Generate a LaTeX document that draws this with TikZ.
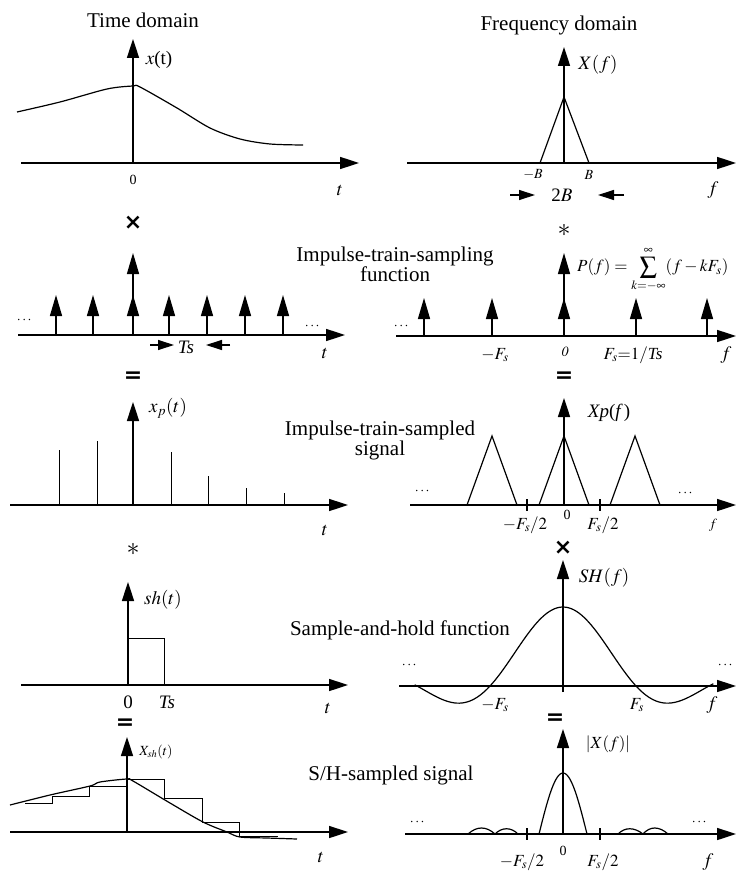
\documentclass[tikz,border=0pt]{standalone}
\usepackage{amsmath}
\usepackage{mathptmx}
\usepackage{fontspec}
\setmainfont{Liberation Serif}
\newfontfamily\opfont{DejaVu Sans}
\usetikzlibrary{arrows.meta}

\begin{document}
\begin{tikzpicture}[x=1pt,y=-1pt,
    axisline/.style={line width=1.6pt,-{Triangle[length=19pt,width=12pt]}},
    imp/.style={line width=1.4pt,-{Triangle[length=21pt,width=12pt]}},
    span/.style={line width=1.2pt,-{Triangle[length=16pt,width=10pt]}},
    curve/.style={line width=1.2pt},
    stem/.style={line width=0.9pt},
    title/.style={font=\fontsize{21}{19}\selectfont,align=center},
    lbl/.style={font=\fontsize{19}{21}\selectfont,inner sep=0pt},
    fslbl/.style={font=\fontsize{17}{19}\selectfont,inner sep=0pt},
    small/.style={font=\fontsize{14}{16}\selectfont,inner sep=0pt},
    op/.style={font=\fontsize{22}{22}\selectfont\opfont\bfseries,inner sep=0pt}]
    \useasboundingbox (0,0) rectangle (736,874);

    \node[title] (ttl-time) at (143,20) {Time domain};
    \node[title] (ttl-freq) at (559,25) {Frequency domain};
    \node[title] (ttl-train) at (395,264) {Impulse-train-sampling\\function};
    \node[title,font=\fontsize{21}{20}\selectfont] (ttl-sampled) at (380,440) {Impulse-train-sampled\\signal};
    \node[title] (ttl-hold) at (400,630) {Sample-and-hold function};
    \node[title] (ttl-sh) at (391,775) {S/H-sampled signal};

    % x(t)
    \draw[axisline] (21,163) -- (359,163);
    \draw[axisline] (133,163) -- (133,39);
    \draw[curve] plot[smooth,tension=0.5] coordinates {(17,112) (60,102) (107,89) (133,86) (140,87) (177,108) (210,128) (240,139) (270,144) (303,145)};
    \node[lbl] (lbl-xt) at (159,60) {$x$(t)};
    \node[small] (lbl-x0) at (133,180) {0};
    \node[lbl] (lbl-xt-t) at (340,190) {$t$};
    \node[op] (op-times1) at (133,223) {×};

    % X(f)
    \draw[axisline] (407,163) -- (736,163);
    \draw[axisline] (564,163) -- (564,47);
    \draw[curve] (540,163) -- (564,97) -- (589,163);
    \node[lbl] (lbl-Xf) at (598,65) {$X(f)$};
    \node[small] (lbl-mB) at (533,175) {$-B$};
    \node[small] (lbl-B) at (589,175) {$B$};
    \node[lbl] (lbl-Xf-f) at (713,190) {$f$};
    \node[lbl] (lbl-2B) at (562,195) {2$B$};
    \draw[span] (510,195) -- (535,195);
    \draw[span] (624,195) -- (598,195);
    \node[font=\fontsize{26}{26}\selectfont,inner sep=0pt] (op-conv1) at (564,230) {$\ast$};

    % p(t)
    \draw[axisline] (18,335) -- (345,335);
    \foreach \xi in {56,93,133,169,207,245,283}
        \draw[imp] (\xi,335) -- (\xi,295);
    \draw[imp] (133,335) -- (133,253);
    \node[small] (dots-p1) at (25,320) {$\cdots$};
    \node[small] (dots-p2) at (313,326) {$\cdots$};
    \draw[span] (150,345) -- (174,345);
    \draw[span] (230,345) -- (206,345);
    \node[lbl] (lbl-Ts1) at (186,347) {\textit{Ts}};
    \node[lbl] (lbl-p-t) at (325,353) {$t$};
    \node[op] (op-eq1) at (133,377) {=};

    % P(f)
    \draw[axisline] (396,336) -- (736,336);
    \foreach \xi in {424,492,564,636,707}
        \draw[imp] (\xi,336) -- (\xi,298);
    \draw[imp] (564,336) -- (564,253);
    \node[fslbl,anchor=base west] (lbl-Pf) at (577,272) {$\displaystyle P(f)=\sum_{k=-\infty}^{\infty}(f-kF_s)$};
    \node[small] (dots-P1) at (402,326) {$\cdots$};
    \node[fslbl] (lbl-mFs1) at (495,355) {$-F_s$};
    \node[small] (lbl-P0) at (565,352) {$\mathit{0}$};
    \node[fslbl] (lbl-Fs1) at (633,355) {$F_s{=}1/$\textit{Ts}};
    \node[lbl] (lbl-P-f) at (726,355) {$f$};
    \node[op] (op-eq2) at (564,377) {=};

    % x_p(t)
    \draw[axisline] (10,505) -- (348,505);
    \draw[axisline] (133,505) -- (133,402);
    \foreach \xi/\yi in {59/450,97/441,171/452,208/476,246/488,284/493}
        \draw[stem] (\xi,505) -- (\xi,\yi);
    \node[lbl] (lbl-xpt) at (168,408) {$x_p(t)$};
    \node[lbl] (lbl-xp-t) at (325,530) {$t$};
    \node[font=\fontsize{26}{26}\selectfont,inner sep=0pt] (op-conv2) at (133,549) {$\ast$};

    % X_p(f)
    \draw[axisline] (410,505) -- (736,505);
    \draw[axisline] (564,505) -- (564,398);
    \foreach \xc in {492,564,635}
        \draw[curve] (\xc-25,505) -- (\xc,436) -- (\xc+25,505);
    \draw[line width=1.2pt] (527,499) -- (527,511);
    \draw[line width=1.2pt] (600,499) -- (600,511);
    \node[lbl] (lbl-Xpf) at (609,413) {\textit{Xp}(\textit{f\,})};
    \node[small] (dots-Xp1) at (423,491) {$\cdots$};
    \node[small] (dots-Xp2) at (686,493) {$\cdots$};
    \node[fslbl] (lbl-mFs2) at (525,525) {$-F_s/2$};
    \node[small] (lbl-Xp0) at (567,515) {0};
    \node[fslbl] (lbl-Fs2) at (603,525) {$F_s/2$};
    \node[small] (lbl-Xp-f) at (713,525) {$f$};
    \node[op] (op-times2) at (563,548) {×};

    % sh(t)
    \draw[axisline] (21,685) -- (348,685);
    \draw[axisline] (128,685) -- (128,582);
    \draw[stem] (128,638) -- (164,638) -- (164,685);
    \node[lbl] (lbl-sht) at (163,600) {$sh(t)$};
    \node[lbl] (lbl-sh0) at (128,702) {0};
    \node[lbl] (lbl-Ts2) at (167,702) {\textit{Ts}};
    \node[lbl] (lbl-sh-t) at (328,708) {$t$};
    \node[op] (op-eq3) at (125,724) {=};

    % SH(f)
    \draw[axisline] (399,686) -- (736,686);
    \draw[axisline] (563,692) -- (563,560);
    \draw[curve] plot[domain=-148.3:150.3,samples=121] ({563+\x},{686-79*sin(\x/73*180)/(\x/73*3.14159)});
    \node[lbl] (lbl-SHf) at (604,578) {$SH(f)$};
    \node[small] (dots-SH1) at (410,665) {$\cdots$};
    \node[small] (dots-SH2) at (726,665) {$\cdots$};
    \node[fslbl] (lbl-mFs3) at (495,705) {$-F_s$};
    \node[fslbl] (lbl-Fs3) at (637,705) {$F_s$};
    \node[lbl] (lbl-SH-f) at (712,705) {$f$};
    \node[op] (op-eq4) at (555,719) {=};

    % x_sh(t)
    \draw[axisline] (10,832) -- (348,832);
    \draw[axisline] (127,832) -- (127,737);
    \draw[curve] plot[smooth,tension=0.5] coordinates {(10,805) (50,795) (90,786) (100,782) (127,779) (133,781) (170,803) (203,822) (227,832) (240,837) (267,838) (297,839)};
    \draw[stem] (25,803) -- (52,803) -- (52,796) -- (89,796) -- (89,786) -- (127,786) -- (127,779) -- (164,779) -- (164,798) -- (202,798) -- (202,822) -- (239,822) -- (239,836) -- (278,836);
    \node[small] (lbl-xsht) at (156,752) {$X_{sh}(t)$};
    \node[lbl] (lbl-xsh-t) at (321,857) {$t$};

    % |X(f)|
    \draw[axisline] (405,834) -- (736,834);
    \draw[axisline] (563,834) -- (563,729);
    \draw[curve] plot[domain=-24:24,samples=41] ({563+\x},{834-61*cos(90*\x/24)});
    \draw[curve] (468,834) .. controls (477,826) and (486,826) .. (495,834) .. controls (502,827) and (511,827) .. (518,834);
    \draw[curve] (618,834) .. controls (625,827) and (634,827) .. (643,834) .. controls (650,826) and (659,826) .. (668,834);
    \draw[line width=1.2pt] (527,828) -- (527,840);
    \draw[line width=1.2pt] (600,828) -- (600,840);
    \node[fslbl] (lbl-absXf) at (608,744) {$|X(f)|$};
    \node[small] (dots-X1) at (418,822) {$\cdots$};
    \node[small] (dots-X2) at (700,822) {$\cdots$};
    \node[fslbl] (lbl-mFs4) at (522,862) {$-F_s/2$};
    \node[small] (lbl-X0) at (563,851) {0};
    \node[fslbl] (lbl-Fs4) at (603,862) {$F_s/2$};
    \node[lbl] (lbl-X-f) at (708,862) {$f$};
\end{tikzpicture}
\end{document}
